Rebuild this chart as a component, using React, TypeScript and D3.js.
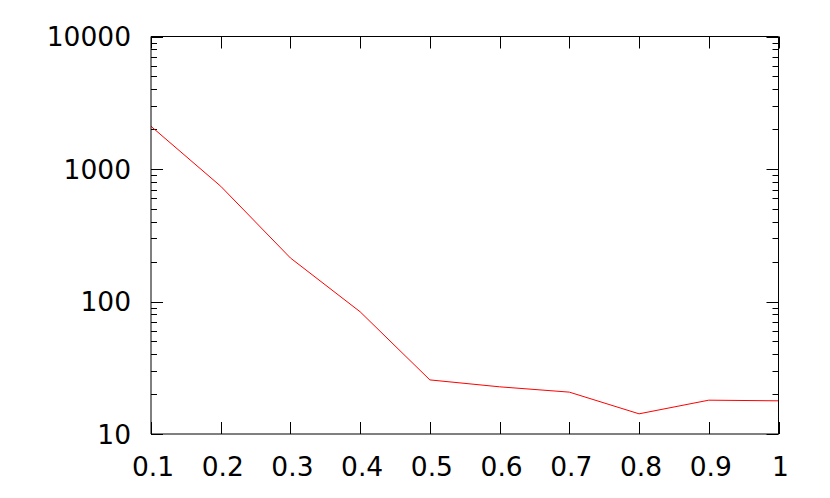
import React from "react";
import * as d3 from "d3";

const xValues = [0.1, 0.2, 0.3, 0.4, 0.5, 0.6, 0.7, 0.8, 0.9, 1.0];
const yValues = [2100, 741, 213, 83.6, 25.6, 22.7, 20.7, 14.2, 18.0, 17.8];
const xTicks = [0.1, 0.2, 0.3, 0.4, 0.5, 0.6, 0.7, 0.8, 0.9, 1.0];
const xTickLabels = ["0.1", "0.2", "0.3", "0.4", "0.5", "0.6", "0.7", "0.8", "0.9", "1"];
const yTicks = [10, 100, 1000, 10000];
const yTickLabels = ["10", "100", "1000", "10000"];

const W = 830;
const H = 498;
const L = 151;
const R = 778.5;
const T = 36.5;
const B = 434;

export default function App() {
  const x = d3.scaleLinear().domain([0.1, 1]).range([L, R]);
  const y = d3.scaleLog().domain([10, 10000]).range([B, T]);
  const line = d3
    .line<number>()
    .x((_, i) => x(xValues[i]))
    .y((d) => y(d));

  const minor: number[] = [];
  for (let dec = 10; dec < 10000; dec *= 10) {
    for (let k = 2; k <= 9; k++) minor.push(dec * k);
  }
  const font = "'DejaVu Sans', sans-serif";
  const major = 12;
  const minLen = 6;
  const px = (v: number) => Math.round(v) + 0.5;

  return (
    <svg width={W} height={H} style={{ position: "absolute", left: 0, top: 0 }}>
      <rect width={W} height={H} fill="#fff" />
      <g stroke="#000" strokeWidth={1} fill="none">
        {xTicks.map((t, i) => (
          <g key={"xt" + i}>
            <line x1={px(x(t))} x2={px(x(t))} y1={B} y2={B - major} />
            <line x1={px(x(t))} x2={px(x(t))} y1={T} y2={T + major} />
          </g>
        ))}
        {yTicks.map((t, i) => (
          <g key={"yt" + i}>
            <line x1={L} x2={L + major} y1={px(y(t))} y2={px(y(t))} />
            <line x1={R} x2={R - major} y1={px(y(t))} y2={px(y(t))} />
          </g>
        ))}
        {minor.map((t, i) => (
          <g key={"ym" + i}>
            <line x1={L} x2={L + minLen} y1={px(y(t))} y2={px(y(t))} />
            <line x1={R} x2={R - minLen} y1={px(y(t))} y2={px(y(t))} />
          </g>
        ))}
      </g>
      <path d={line(yValues) || ""} fill="none" stroke="#ff0000" strokeWidth={1} />
      <g stroke="#000" strokeWidth={1}>
        <line x1={L} x2={R} y1={T} y2={T} />
        <line x1={R} x2={R} y1={T} y2={B} />
        <line x1={L} x2={R} y1={B} y2={B} />
        <line x1={L} x2={L} y1={T} y2={B} />
      </g>
      <g fontFamily={font} fontSize={26.5} fill="#000">
        {yTicks.map((t, i) => (
          <text key={"yl" + i} x={L - 20} y={y(t)} textAnchor="end" dominantBaseline="central">
            {yTickLabels[i]}
          </text>
        ))}
        {xTicks.map((t, i) => (
          <text key={"xl" + i} x={x(t) + 2} y={B + 41.5} textAnchor="middle">
            {xTickLabels[i]}
          </text>
        ))}
      </g>
    </svg>
  );
}
